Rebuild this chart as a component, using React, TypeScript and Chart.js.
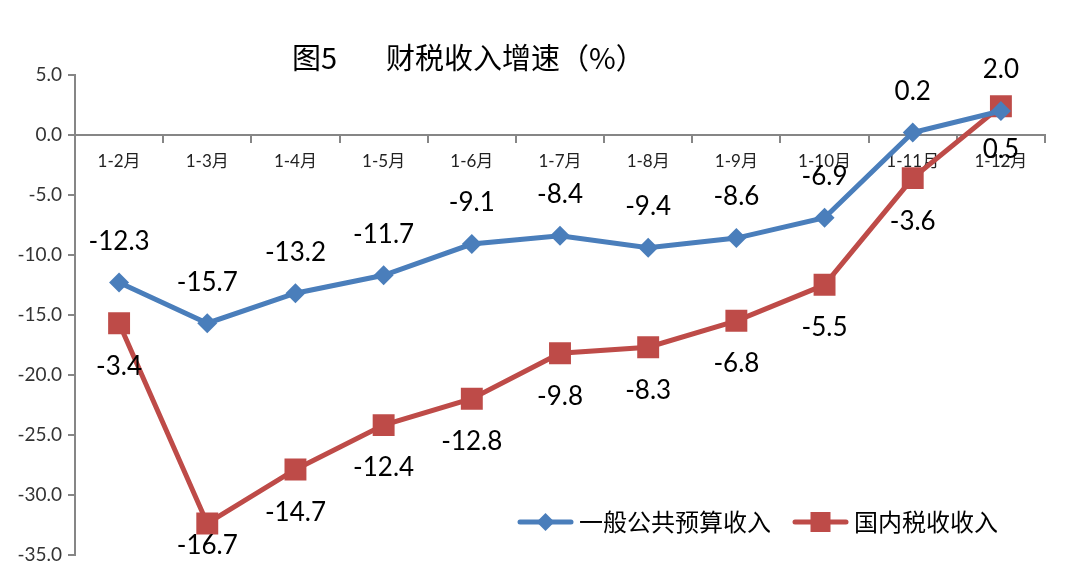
import React, { useEffect, useRef } from "react";
import { Chart, registerables } from "chart.js";

Chart.register(...registerables);

const categories = ["1-2月", "1-3月", "1-4月", "1-5月", "1-6月", "1-7月", "1-8月", "1-9月", "1-10月", "1-11月", "1-12月"];
const publicBudget = [-12.3, -15.7, -13.2, -11.7, -9.1, -8.4, -9.4, -8.6, -6.9, 0.2, 2.0];
const publicBudgetLabels = ["-12.3", "-15.7", "-13.2", "-11.7", "-9.1", "-8.4", "-9.4", "-8.6", "-6.9", "0.2", "2.0"];
// plotted positions of the red series as drawn in the picture
const domesticTax = [-15.7, -32.4, -27.9, -24.2, -22.0, -18.2, -17.7, -15.5, -12.5, -3.6, 2.4];
// text printed next to the red points in the picture
const domesticTaxLabels = ["-3.4", "-16.7", "-14.7", "-12.4", "-12.8", "-9.8", "-8.3", "-6.8", "-5.5", "-3.6", "0.5"];
const seriesNames = ["一般公共预算收入", "国内税收收入"];
const titleLeft = "图5";
const titleRight = "财税收入增速（%）";

const BLUE = "#4A7EBB";
const RED = "#BE4B48";
const AXIS = "#868686";
const NUM_FONT = "Lato, 'Noto Sans CJK SC', sans-serif";
const CJK_FONT = "'Noto Sans CJK SC', sans-serif";

const overlay = {
  id: "overlay",
  afterDatasetsDraw(chart: any) {
    const ctx = chart.ctx;
    ctx.save();
    // data labels
    ctx.fillStyle = "#000";
    ctx.font = `26px ${NUM_FONT}`;
    ctx.textAlign = "center";
    ctx.textBaseline = "middle";
    const m0 = chart.getDatasetMeta(0).data;
    m0.forEach((p: any, i: number) => {
      ctx.fillText(publicBudgetLabels[i], p.x, p.y - 41);
    });
    const m1 = chart.getDatasetMeta(1).data;
    m1.forEach((p: any, i: number) => {
      ctx.fillText(domesticTaxLabels[i], p.x, Math.min(p.y + 43, chart.height - 26));
    });

    // title
    ctx.font = `29px ${CJK_FONT}`;
    ctx.textAlign = "left";
    ctx.fillText(titleLeft, 292, 58);
    ctx.fillText(titleRight, 386, 58);

    // legend
    const ly = 522;
    const items = [
      { x: 520, color: BLUE, shape: "diamond" },
      { x: 795, color: RED, shape: "square" },
    ];
    ctx.font = `24px ${CJK_FONT}`;
    items.forEach((it, i) => {
      ctx.strokeStyle = it.color;
      ctx.lineWidth = 5;
      ctx.lineCap = "round";
      ctx.beginPath();
      ctx.moveTo(it.x, ly);
      ctx.lineTo(it.x + 51, ly);
      ctx.stroke();
      ctx.fillStyle = it.color;
      const cx = it.x + 25.5;
      ctx.beginPath();
      if (it.shape === "diamond") {
        ctx.moveTo(cx - 9, ly);
        ctx.lineTo(cx, ly - 9);
        ctx.lineTo(cx + 9, ly);
        ctx.lineTo(cx, ly + 9);
        ctx.closePath();
      } else {
        ctx.rect(cx - 10, ly - 10, 20, 20);
      }
      ctx.fill();
      ctx.fillStyle = "#000";
      ctx.textBaseline = "middle";
      ctx.fillText(seriesNames[i], it.x + 59, ly);
    });
    ctx.restore();
  },
};

export default function App() {
  const ref = useRef<HTMLCanvasElement | null>(null);
  useEffect(() => {
    document.body.style.margin = "0";
    const chart = new Chart(ref.current!, {
      type: "line",
      data: {
        labels: categories,
        datasets: [
          {
            label: seriesNames[0],
            data: publicBudget,
            borderColor: BLUE,
            backgroundColor: BLUE,
            borderWidth: 5,
            pointStyle: "rectRot",
            pointRadius: 10,
            pointBorderWidth: 0,
            tension: 0,
          },
          {
            label: seriesNames[1],
            data: domesticTax,
            borderColor: RED,
            backgroundColor: RED,
            borderWidth: 5,
            pointStyle: "rect",
            pointRadius: 15.5,
            pointBorderWidth: 0,
            tension: 0,
          },
        ],
      },
      options: {
        animation: false,
        responsive: true,
        maintainAspectRatio: false,
        layout: { padding: { left: 0, right: 35, top: 75, bottom: 17 } },
        plugins: { legend: { display: false }, tooltip: { enabled: false }, title: { display: false } },
        scales: {
          x: {
            type: "category",
            position: { y: 0 } as any,
            offset: true,
            grid: { display: true, drawOnChartArea: false, offset: true, tickLength: 7, color: AXIS, lineWidth: 2 },
            border: { color: AXIS, width: 2 },
            ticks: { color: "#222", font: { family: NUM_FONT, size: 17 }, padding: 9, maxRotation: 0, autoSkip: false },
            afterFit: (s: any) => { s.height = 0; },
          },
          y: {
            min: -35,
            max: 5,
            grid: { display: true, drawOnChartArea: false, tickLength: 7, color: AXIS, lineWidth: 2 },
            border: { color: AXIS, width: 2 },
            ticks: {
              stepSize: 5,
              color: "#333",
              font: { family: NUM_FONT, size: 19 },
              padding: 6,
              callback: (v: any) => Number(v).toFixed(1),
            },
            afterFit: (s: any) => { s.width = 75; },
          },
        },
      },
      plugins: [overlay],
    });
    return () => chart.destroy();
  }, []);
  return (
    <div style={{ position: "relative", width: 1080, height: 572, background: "#fff" }}>
      <canvas ref={ref} />
    </div>
  );
}
